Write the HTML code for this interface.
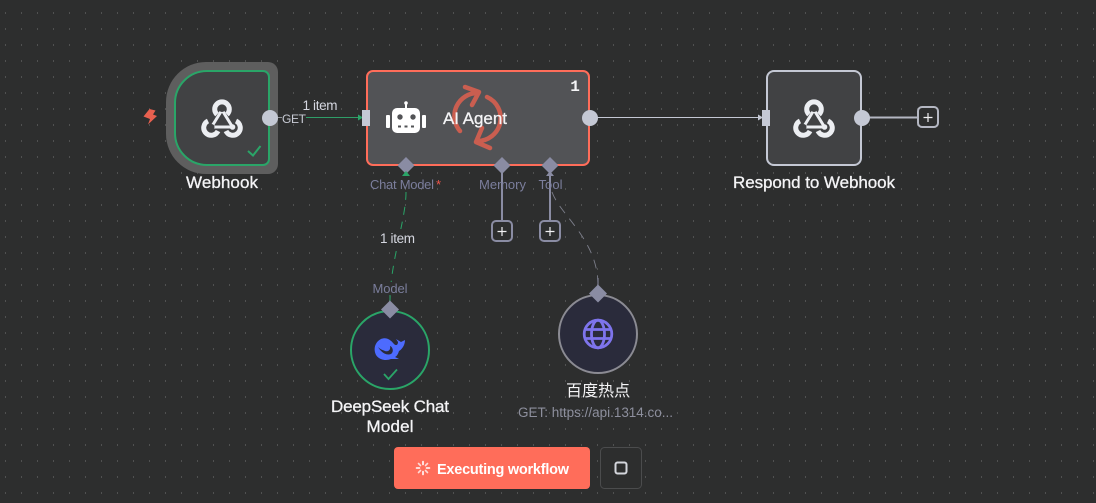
<!DOCTYPE html>
<html><head><meta charset="utf-8">
<style>
html,body{margin:0;padding:0;background:#2d2e2e;width:1096px;height:503px;overflow:hidden}
svg{display:block}
text{font-family:"Liberation Sans","Noto Sans CJK SC",sans-serif}
.t{fill:#f4f4f6;font-size:17px;text-anchor:middle;stroke:#f4f4f6;stroke-width:.3}
.p{fill:#7b7e9c;font-size:13px;text-anchor:middle}
.i{fill:#d5d7e0;font-size:13.5px;text-anchor:middle}
</style></head><body>
<svg width="1096" height="503" viewBox="0 0 1096 503" xmlns="http://www.w3.org/2000/svg">
<defs>
<pattern id="g" x="0" y="0" width="16" height="16" patternUnits="userSpaceOnUse"><rect x="5" y="12" width="1" height="2" fill="#505151" shape-rendering="crispEdges"/></pattern>
<g id="hook" fill="none" stroke="#eceef2">
<path d="M0-8 L-10.500 9 L10.500 9 Z" stroke-width="3"/>
<path d="M-5-3.500 A7.300 7.300 0 1 1 5-3.500" stroke-width="5"/>
<path d="M-14 3 A7.500 7.500 0 1 0 -4 13" stroke-width="5"/>
<path d="M14 3 A7.500 7.500 0 1 1 4 13" stroke-width="5"/>
<circle cx="0" cy="-9" r="3" fill="#414244" stroke="none"/>
<circle cx="-10.500" cy="9" r="3" fill="#414244" stroke="none"/>
<circle cx="10.500" cy="9" r="2.800" fill="#eceef2" stroke="none"/>
</g>
</defs>
<rect width="1096" height="503" fill="#2d2e2e"/>
<rect width="1096" height="503" fill="url(#g)"/>

<!-- connectors -->
<line x1="278" y1="117.500" x2="282" y2="117.500" stroke="#8f9298" stroke-width="1"/>
<line x1="306" y1="117.500" x2="360" y2="117.500" stroke="#2f9e68" stroke-width="1"/>
<path d="M358 114.500 L363 117.500 L358 120.500Z" fill="#2aa568"/>
<line x1="596" y1="117.500" x2="760" y2="117.500" stroke="#c4c8d4" stroke-width="1"/>
<path d="M758 114.500 L763 117.500 L758 120.500Z" fill="#c4c8d4"/>
<line x1="868" y1="117.500" x2="918" y2="117.500" stroke="#b4b7c2" stroke-width="2"/>
<line x1="502" y1="172" x2="502" y2="222" stroke="#8a8ca3" stroke-width="2"/>
<line x1="550" y1="172" x2="550" y2="222" stroke="#8a8ca3" stroke-width="2"/>
<path d="M406 192 C406 220 390 262 390 302" fill="none" stroke="#2aa568" stroke-width="1" stroke-dasharray="8 7"/>
<path d="M552 192 C560 215 598 240 598 285" fill="none" stroke="#7c7e8a" stroke-width=".9" stroke-dasharray="9 7"/>
<path d="M546 176 L554 176 L550 171Z" fill="#8a8ca3"/>

<!-- webhook -->
<path d="M206 62 H268 A10 10 0 0 1 278 72 V164 A10 10 0 0 1 268 174 H206 A40 40 0 0 1 166 134 V102 A40 40 0 0 1 206 62Z" fill="#5e5e5e"/>
<path d="M207 71 H263 A6 6 0 0 1 269 77 V159 A6 6 0 0 1 263 165 H207 A32 32 0 0 1 175 133 V103 A32 32 0 0 1 207 71Z" fill="#414244" stroke="#2aa568" stroke-width="2"/>
<use href="#hook" x="222" y="118"/>
<path d="M248 151 L253 155.500 L260.500 146" fill="none" stroke="#2aa568" stroke-width="2"/>
<circle cx="270" cy="118" r="8" fill="#c4c8d4"/>
<path d="M149.500 109 L155.500 110.500 L153 114.500 L157 116 L148 124.500 L150 119 L143.500 116.500Z" fill="#e8604f"/>
<text class="t" x="222" y="188" textLength="72">Webhook</text>
<text class="i" x="294" y="123" textLength="24" style="font-size:12px;fill:#c9ccd6">GET</text>
<text class="i" x="320" y="110" textLength="35">1 item</text>

<!-- AI agent -->
<rect x="367" y="71" width="222" height="94" rx="6" fill="#525356" stroke="#ff6d5a" stroke-width="2"/>
<rect x="362" y="110" width="8" height="16" fill="#c4c8d4"/>
<circle cx="590" cy="118" r="8" fill="#c4c8d4"/>
<g fill="#fff">
<rect x="392" y="108" width="28" height="25" rx="5"/>
<rect x="386" y="115" width="4" height="13" rx="1"/>
<rect x="422" y="115" width="4" height="13" rx="1"/>
<rect x="405" y="102" width="2" height="7"/>
<circle cx="406" cy="103" r="1.800"/>
</g>
<circle cx="400" cy="117" r="2.700" fill="#525356"/><circle cx="413" cy="117" r="2.700" fill="#525356"/>
<rect x="398" y="125.500" width="3" height="2" fill="#525356"/><rect x="404.500" y="125.500" width="3" height="2" fill="#525356"/><rect x="411" y="125.500" width="3" height="2" fill="#525356"/>
<g fill="none" stroke="#e0604f" stroke-width="4.500" stroke-linecap="round" stroke-linejoin="round" opacity=".85">
<path d="M460 131 A23 23 0 0 1 478 93"/>
<path d="M465 87 L479 92 L472 105"/>
<path d="M487 97 A23 23 0 0 1 477 141"/>
<path d="M490 148 L476 142 L482 128"/>
</g>
<text class="t" x="475" y="124" textLength="64">AI Agent</text>
<text x="575" y="91" fill="#f4f4f6" text-anchor="middle" style="font-family:'Liberation Mono',monospace;font-size:16px;font-weight:700">1</text>
<g fill="#8a8ca3">
<path d="M406 157 L414.500 165.500 L406 174 L397.500 165.500Z"/>
<path d="M502 157 L510.500 165.500 L502 174 L493.500 165.500Z"/>
<path d="M550 157 L558.500 165.500 L550 174 L541.500 165.500Z"/>
</g>
<path d="M402 176 L410 176 L406 171Z" fill="#2aa568"/>
<text class="p" x="402" y="189" textLength="64">Chat Model</text><text x="438.500" y="189" fill="#f0564c" font-size="13" text-anchor="middle">*</text>
<text class="p" x="502.500" y="189" textLength="47">Memory</text>
<text class="p" x="550.500" y="189" textLength="24">Tool</text>

<g fill="#2d2e2e" stroke="#8a8ca3" stroke-width="2">
<rect x="492" y="221" width="20" height="20" rx="4"/>
<rect x="540" y="221" width="20" height="20" rx="4"/>
</g>
<path d="M497.500 231.500 H506.500 M502 227 V236 M545.500 231.500 H554.500 M550 227 V236" stroke="#f0f0f2" stroke-width="1.200"/>
<rect x="376" y="229" width="46" height="18" fill="#2d2e2e"/>
<text class="i" x="397.500" y="243" textLength="35">1 item</text>
<rect x="371" y="282" width="38" height="14" fill="#2d2e2e"/>
<text class="p" x="390" y="293" textLength="35">Model</text>
<line x1="390" y1="295" x2="390" y2="302" stroke="#2aa568"/>
<line x1="598" y1="278" x2="598" y2="286" stroke="#8a8ca3"/>

<!-- respond -->
<rect x="767" y="71" width="94" height="94" rx="7" fill="#414244" stroke="#c4c8d4" stroke-width="2"/>
<rect x="762" y="110" width="8" height="16" fill="#c4c8d4"/>
<circle cx="862" cy="118" r="8" fill="#c4c8d4"/>
<use href="#hook" x="814" y="118"/>
<text class="t" x="814" y="188" textLength="162">Respond to Webhook</text>
<rect x="918" y="107" width="20" height="20" rx="4" fill="#2d2e2e" stroke="#b4b7c2" stroke-width="2"/>
<path d="M923.500 117.500 H932.500 M928 113 V122" stroke="#f0f0f2" stroke-width="1.200"/>

<!-- deepseek -->
<circle cx="390" cy="350" r="39" fill="#2a2b3b" stroke="#2aa568" stroke-width="2"/>
<path d="M381 339 C386 337 390 339 394 344 C396 346 398 345 398 342 L396 339 L401 342 L405 340 C405 346 401 350 399 351 C398 354 397 356 395 357 L399 359 L391 359 C386 361 379 360 376 355 C373 349 375 342 381 339Z" fill="#4d6bfe"/>
<path d="M378 347 C381 352 386 356 391 354 C394 352 393 347 390 346 C391 350 388 352 385 351 C382 350 380 349 378 347Z" fill="#2a2b3b"/>
<path d="M384 374 L388.500 379 L397 369.500" fill="none" stroke="#2aa568" stroke-width="1.800"/>
<path d="M390 300.500 L399 309.500 L390 318.500 L381 309.500Z" fill="#8a8ca3"/>
<text class="t" x="390" y="412" textLength="118">DeepSeek Chat</text>
<text class="t" x="390" y="432" textLength="47">Model</text>

<!-- globe -->
<circle cx="598" cy="334" r="39" fill="#2a2b3b" stroke="#8b8b93" stroke-width="2"/>
<g fill="none" stroke="#7e74ec" stroke-width="2.800">
<circle cx="598" cy="334" r="13.800"/>
<ellipse cx="598" cy="334" rx="6.500" ry="13.800"/>
<path d="M584.500 329.500 H611.500 M584.500 338.500 H611.500"/>
</g>
<path d="M598 284.500 L607 293.500 L598 302.500 L589 293.500Z" fill="#8a8ca3"/>
<text class="t" x="598" y="396" style="stroke-width:0;font-size:16px" textLength="64">百度热点</text>
<text x="595.500" y="417" fill="#8d8f9d" font-size="13.500" text-anchor="middle" textLength="155">GET: https://api.1314.co...</text>

<!-- buttons -->
<rect x="394" y="447" width="196" height="42" rx="4" fill="#ff6d5a"/>
<g stroke="#fff" stroke-width="1.600" stroke-linecap="round">
<path d="M423 461.500V464.500M423 471.500V474.500" />
<path d="M416.500 468H419.500M426.500 468H429.500" />
<path d="M418.500 463.500L420.500 465.500M425.500 470.500L427.500 472.500M418.500 472.500L420.500 470.500M425.500 465.500L427.500 463.500" opacity=".75"/>
</g>
<text x="503" y="474" fill="#fff" font-size="14.500" font-weight="700" text-anchor="middle" textLength="132">Executing workflow</text>
<rect x="600.500" y="447.500" width="41" height="41" rx="4" fill="#2d2e2e" stroke="#4b4c4d"/>
<rect x="615.500" y="462.500" width="11" height="11" rx="2" fill="none" stroke="#d4d6dc" stroke-width="2"/>
</svg>
</body></html>
